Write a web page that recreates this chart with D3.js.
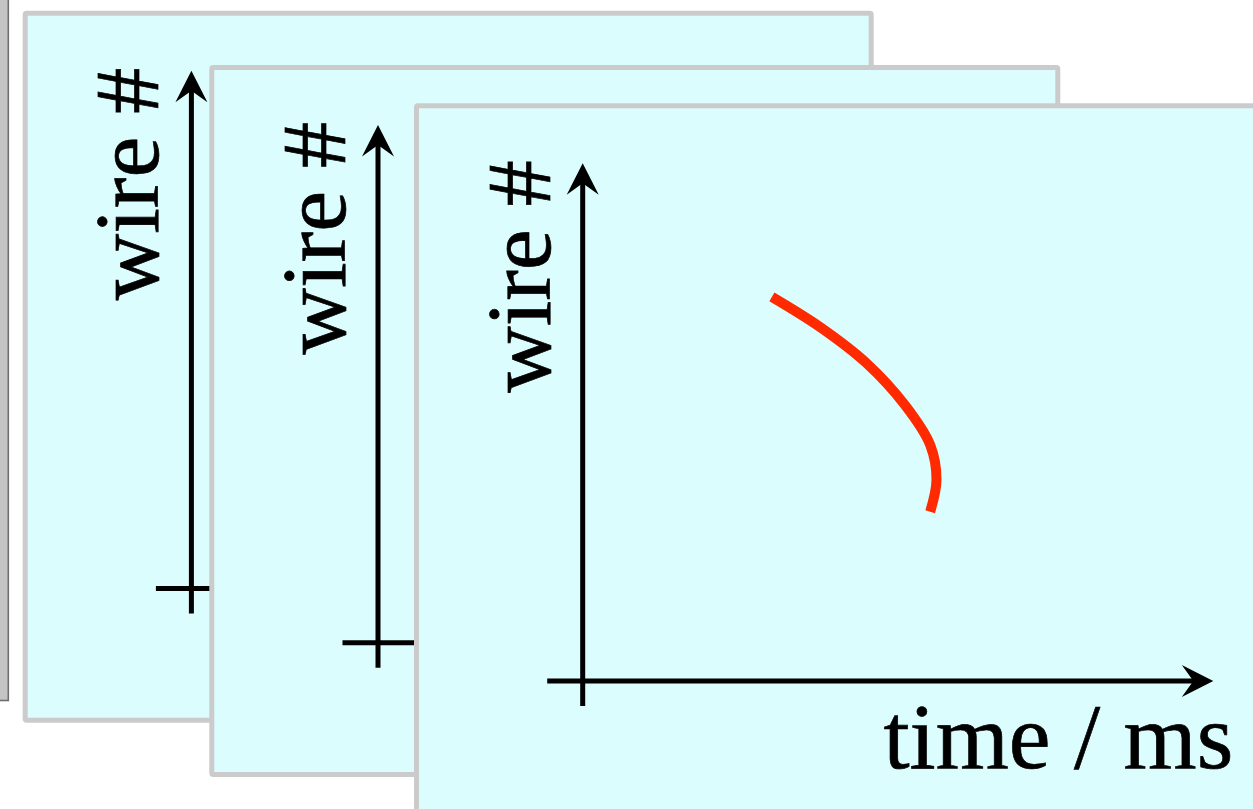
<!DOCTYPE html>
<html>
<head>
<meta charset="utf-8">
<script src="https://cdn.jsdelivr.net/npm/d3@7"></script>
<style>
  html, body { margin: 0; padding: 0; background: #ffffff; overflow: hidden; }
  svg { display: block; }
</style>
</head>
<body>
<svg id="chart" width="1253" height="809"></svg>
<script>
// ---- data ----
const panelNames = ["back", "middle", "front"];
const yAxisLabel = "wire #";
const xAxisLabel = "time / ms";
const timeDomain = [0, 100];
const wireDomain = [0, 100];
// red track on the front panel (time, wire)
const trackTime = [30.0, 37.6, 45.0, 51.1, 55.1, 56.1, 55.1];
const trackWire = [74.2, 68.4, 61.4, 53.3, 45.6, 38.8, 32.7];

// ---- layout ----
const W = 1253, H = 809;
const panelW = 851, panelH = 712, border = 5;
const panelPos = { back: [22.7, 10.7], middle: [209.3, 65], front: [414, 103.3] };
const origin = [168.7, 577.7];   // axis crossing inside a panel
const xTip = 799.3, yTip = 60;
const fillC = "#dcfdfe", borderC = "#cbcbcb";
const serif = "'Liberation Serif', 'Times New Roman', Times, serif";

const svg = d3.select("#chart");

// left grey strip (partially hidden element)
svg.append("rect")
  .attr("x", -6).attr("y", -6).attr("width", 14.3).attr("height", 706.5)
  .attr("fill", "#c4c4c4").attr("stroke", "#6e6e6e").attr("stroke-width", 1.6);

const x = d3.scaleLinear().domain(timeDomain).range([origin[0], xTip]);
const y = d3.scaleLinear().domain(wireDomain).range([origin[1], yTip]);

function arrowHead(g, tx, ty, angle) {
  g.append("path")
    .attr("d", "M0,0 L-31.5,-16 L-20,0 L-31.5,16 Z")
    .attr("transform", `translate(${tx},${ty}) rotate(${angle})`)
    .attr("fill", "#000");
}

panelNames.forEach(name => {
  const [px, py] = panelPos[name];
  const g = svg.append("g").attr("transform", `translate(${px},${py})`);
  g.append("rect")
    .attr("x", border / 2).attr("y", border / 2)
    .attr("width", panelW - border).attr("height", panelH - border)
    .attr("rx", 1.5)
    .attr("fill", fillC).attr("stroke", borderC).attr("stroke-width", border);

  const ox = x(timeDomain[0]), oy = y(wireDomain[0]);
  // x axis
  g.append("line")
    .attr("x1", ox - 35.5).attr("x2", x(timeDomain[1]) - 18)
    .attr("y1", oy).attr("y2", oy)
    .attr("stroke", "#000").attr("stroke-width", 5);
  arrowHead(g, x(timeDomain[1]), oy, 0);
  // y axis
  g.append("line")
    .attr("x1", ox).attr("x2", ox)
    .attr("y1", oy + 25).attr("y2", y(wireDomain[1]) + 18)
    .attr("stroke", "#000").attr("stroke-width", 5);
  arrowHead(g, ox, y(wireDomain[1]), -90);

  // y axis label
  g.append("text")
    .attr("transform", `translate(${ox - 33},${y(wireDomain[1]) - 3}) rotate(-90)`)
    .attr("text-anchor", "end")
    .attr("font-family", serif)
    .attr("font-size", 92)
    .attr("fill", "#000").attr("stroke", "#000").attr("stroke-width", 0.7)
    .text(yAxisLabel);

  if (name === "front") {
    g.append("text")
      .attr("x", x(timeDomain[1]) + 20).attr("y", oy + 87)
      .attr("text-anchor", "end")
      .attr("font-family", serif)
      .attr("font-size", 94)
      .attr("fill", "#000").attr("stroke", "#000").attr("stroke-width", 0.7)
      .text(xAxisLabel);

    const pts = trackTime.map((t, i) => [t, trackWire[i]]);
    const line = d3.line().x(d => x(d[0])).y(d => y(d[1])).curve(d3.curveCatmullRom.alpha(0.5));
    g.append("path")
      .attr("d", line(pts))
      .attr("fill", "none")
      .attr("stroke", "#ff2a00")
      .attr("stroke-width", 10)
      .attr("stroke-linecap", "butt");
  }
});
</script>
</body>
</html>
